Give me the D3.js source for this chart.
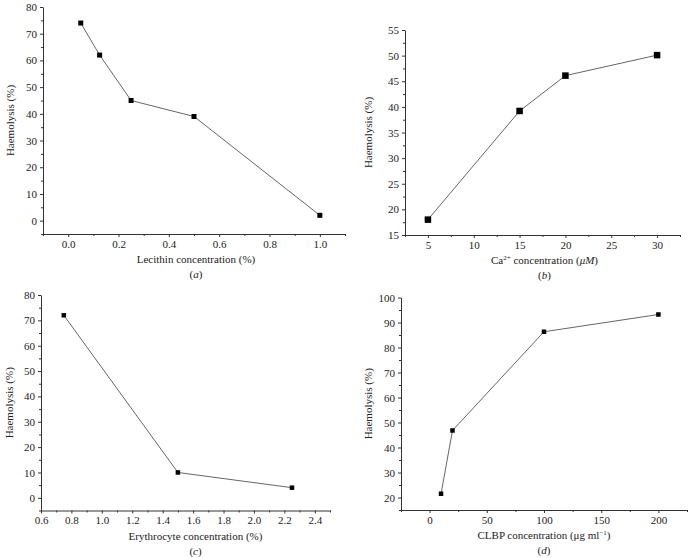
<!DOCTYPE html>
<html>
<head>
<meta charset="utf-8">
<script src="https://cdn.jsdelivr.net/npm/d3@7"></script>
<style>
  body { margin: 0; background: #fff; }
  svg text { font-family: "Liberation Serif", "Times New Roman", serif; fill: #222; }
</style>
</head>
<body>
<div id="chart"></div>
<script>
// data
const lecithinConc = [0.05, 0.125, 0.25, 0.5, 1.0];
const lecithinHaem = [74, 62, 45, 39, 2];

const calciumConc = [5, 15, 20, 30];
const calciumHaem = [18, 39.2, 46.1, 50.1];

const erythroConc = [0.75, 1.5, 2.25];
const erythroHaem = [72, 10, 4];

const clbpConc = [10, 20, 100, 200];
const clbpHaem = [21.5, 46.8, 86.3, 93.2];

const width = 693, height = 558;
const serif = "'Liberation Serif', 'Times New Roman', serif";

const svg = d3.select("#chart")
  .append("svg")
    .attr("width", width)
    .attr("height", height)
    .attr("font-family", serif);

// one panel: left/right/top/bottom is the axis frame in page pixels
function drawPanel(p) {
  const x = d3.scaleLinear().domain(p.xDomain).range([p.left, p.right]);
  const y = d3.scaleLinear().domain(p.yDomain).range([p.bottom, p.top]);
  const g = svg.append("g");

  const xTicks = d3.range(p.xTick[0], p.xTick[1] + 1e-9, p.xTick[2]);
  const yTicks = d3.range(p.yTick[0], p.yTick[1] + 1e-9, p.yTick[2]);
  const xMinor = d3.range(p.xDomain[0], p.xDomain[1] + 1e-9, p.xTick[2] / 2)
    .filter(v => !xTicks.some(t => Math.abs(t - v) < 1e-9));
  const yMinor = d3.range(p.yTick[0] - p.yTick[2] / 2, p.yDomain[1] + 1e-9, p.yTick[2] / 2)
    .filter(v => v >= p.yDomain[0] && !yTicks.some(t => Math.abs(t - v) < 1e-9));

  // minor ticks
  g.append("g")
    .attr("transform", `translate(0,${p.bottom})`)
    .call(d3.axisBottom(x).tickValues(xMinor).tickSize(2).tickFormat(""))
    .call(a => a.select(".domain").remove());
  g.append("g")
    .attr("transform", `translate(${p.left},0)`)
    .call(d3.axisLeft(y).tickValues(yMinor).tickSize(2).tickFormat(""))
    .call(a => a.select(".domain").remove());

  // major axes
  const xa = g.append("g")
    .attr("transform", `translate(0,${p.bottom})`)
    .call(d3.axisBottom(x).tickValues(xTicks).tickSize(3).tickPadding(3)
      .tickSizeOuter(0).tickFormat(d3.format(p.xFmt)));
  const ya = g.append("g")
    .attr("transform", `translate(${p.left},0)`)
    .call(d3.axisLeft(y).tickValues(yTicks).tickSize(3).tickPadding(3)
      .tickSizeOuter(0).tickFormat(d3.format("d")));
  [xa, ya].forEach(a => {
    a.attr("font-family", serif).attr("font-size", 11);
    a.selectAll("text").attr("fill", "#222");
    a.selectAll("path").attr("stroke", "#333");
  });
  g.selectAll("line").attr("stroke", "#333");
  g.selectAll("g").attr("font-family", serif);

  // line + square markers
  const pts = p.xs.map((v, i) => [v, p.ys[i]]);
  g.append("path")
    .datum(pts)
    .attr("d", d3.line().x(d => x(d[0])).y(d => y(d[1])))
    .attr("fill", "none")
    .attr("stroke", "#555")
    .attr("stroke-width", 0.9);
  g.selectAll("rect.mk")
    .data(pts)
    .join("rect")
      .attr("class", "mk")
      .attr("x", d => x(d[0]) - p.mk / 2)
      .attr("y", d => y(d[1]) - p.mk / 2)
      .attr("width", p.mk)
      .attr("height", p.mk)
      .attr("fill", "#000");

  // axis titles
  const xt = g.append("text")
    .attr("x", (p.left + p.right) / 2 + p.titleShift)
    .attr("y", p.bottom + 29)
    .attr("text-anchor", "middle")
    .attr("font-size", 11);
  p.xTitle(xt);

  g.append("text")
    .attr("transform", `translate(${p.left - p.yOff},${(p.top + p.bottom) / 2}) rotate(-90)`)
    .attr("text-anchor", "middle")
    .attr("font-size", 11)
    .text("Haemolysis (%)");

  const lt = g.append("text")
    .attr("x", (p.left + p.right) / 2 + p.titleShift)
    .attr("y", p.bottom + 44)
    .attr("text-anchor", "middle")
    .attr("font-size", 11);
  lt.append("tspan").text("(");
  lt.append("tspan").style("font-style", "italic").text(p.letter);
  lt.append("tspan").text(")");
}

drawPanel({
  left: 43, right: 345, top: 7, bottom: 234,
  xDomain: [-0.1, 1.1], yDomain: [-5, 80],
  xTick: [0, 1.0, 0.2], yTick: [0, 80, 10], xFmt: ".1f",
  xs: lecithinConc, ys: lecithinHaem, mk: 5, letter: "a", titleShift: 2, yOff: 29,
  xTitle: t => t.text("Lecithin concentration (%)")
});

drawPanel({
  left: 405, right: 680, top: 30, bottom: 235,
  xDomain: [2.5, 32.5], yDomain: [15, 55],
  xTick: [5, 30, 5], yTick: [15, 55, 5], xFmt: "d",
  xs: calciumConc, ys: calciumHaem, mk: 6.5, letter: "b", titleShift: 2, yOff: 33,
  xTitle: t => {
    t.append("tspan").text("Ca");
    t.append("tspan").attr("dy", -4).attr("font-size", 7).text("2+");
    t.append("tspan").attr("dy", 4).text(" concentration (");
    t.append("tspan").style("font-style", "italic").text("μM");
    t.append("tspan").text(")");
  }
});

drawPanel({
  left: 41, right: 330, top: 295, bottom: 510.5,
  xDomain: [0.6, 2.5], yDomain: [-5, 80],
  xTick: [0.6, 2.4, 0.2], yTick: [0, 80, 10], xFmt: ".1f",
  xs: erythroConc, ys: erythroHaem, mk: 4.5, letter: "c", titleShift: 10, yOff: 28,
  xTitle: t => t.text("Erythrocyte concentration (%)")
});

drawPanel({
  left: 401, right: 687, top: 297.5, bottom: 510,
  xDomain: [-25, 225], yDomain: [15, 100],
  xTick: [0, 200, 50], yTick: [20, 100, 10], xFmt: "d",
  xs: clbpConc, ys: clbpHaem, mk: 4.5, letter: "d", titleShift: 0, yOff: 29,
  xTitle: t => {
    t.append("tspan").text("CLBP concentration (μg ml");
    t.append("tspan").attr("dy", -4).attr("font-size", 7).text("−1");
    t.append("tspan").attr("dy", 4).text(")");
  }
});
</script>
</body>
</html>
